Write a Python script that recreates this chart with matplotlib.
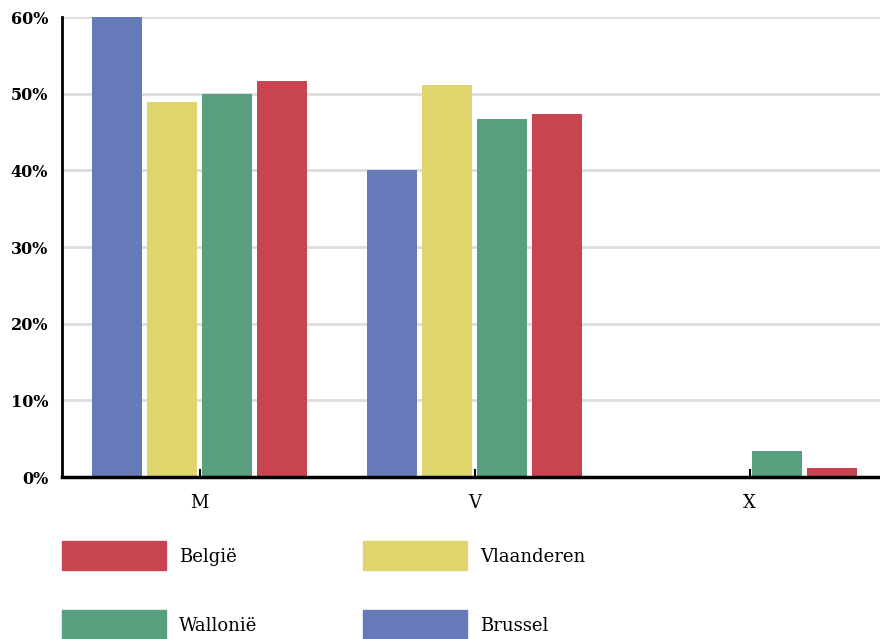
import matplotlib.pyplot as plt
from matplotlib.patches import Rectangle
import numpy as np

plt.rcParams['font.family'] = ['DejaVu Serif']

# data
categorieen = ["M", "V", "X"]
brussel = [60.0, 40.0, 0.0]
vlaanderen = [48.9, 51.1, 0.0]
wallonie = [50.0, 46.7, 3.4]
belgie = [51.7, 47.3, 1.15]

reeksen = [("Brussel", brussel, "#6679B8"),
           ("Vlaanderen", vlaanderen, "#E0D46D"),
           ("Wallonië", wallonie, "#579F7F"),
           ("België", belgie, "#C94451")]

fig = plt.figure(figsize=(8.8, 6.39), dpi=100)
ax = fig.add_axes([62/880, (639-477)/639, (887-62)/880, 460/639])

x = np.arange(len(categorieen))
offsets = [-0.3, -0.1, 0.1, 0.3]
for (naam, vals, kleur), off in zip(reeksen, offsets):
    ax.bar(x + off, vals, width=0.182, color=kleur, zorder=3)

ax.set_xlim(-0.5, 2.5)
ax.set_ylim(0, 60)
ax.set_yticks(range(0, 61, 10))
ax.set_yticklabels([f"{v}%" for v in range(0, 61, 10)], fontweight="bold", fontsize=11.5)
ax.set_xticks(x)
ax.set_xticklabels(categorieen, fontsize=13)
ax.tick_params(axis="y", length=0, pad=10)
ax.tick_params(axis="x", direction="in", length=6, width=1.5, pad=12)
ax.yaxis.grid(True, color="#dddddd", linewidth=2, zorder=0)
for s in ["top", "right"]:
    ax.spines[s].set_visible(False)
ax.spines["left"].set_linewidth(2)
ax.spines["bottom"].set_linewidth(2.5)
ax.spines["bottom"].set_zorder(4)
ax.set_axisbelow(True)

# legend
legenda = [("België", "#C94451", 62, 541), ("Vlaanderen", "#E0D46D", 363, 541),
           ("Wallonië", "#579F7F", 62, 610), ("Brussel", "#6679B8", 363, 610)]
for naam, kleur, lx, ly in legenda:
    fig.add_artist(Rectangle((lx/880, 1 - (ly+29)/639), 104/880, 29/639,
                             transform=fig.transFigure, color=kleur))
    fig.text((lx+117)/880, 1 - (ly+16)/639, naam, fontsize=13, va="center")

fig.savefig("out.png", dpi=100)
